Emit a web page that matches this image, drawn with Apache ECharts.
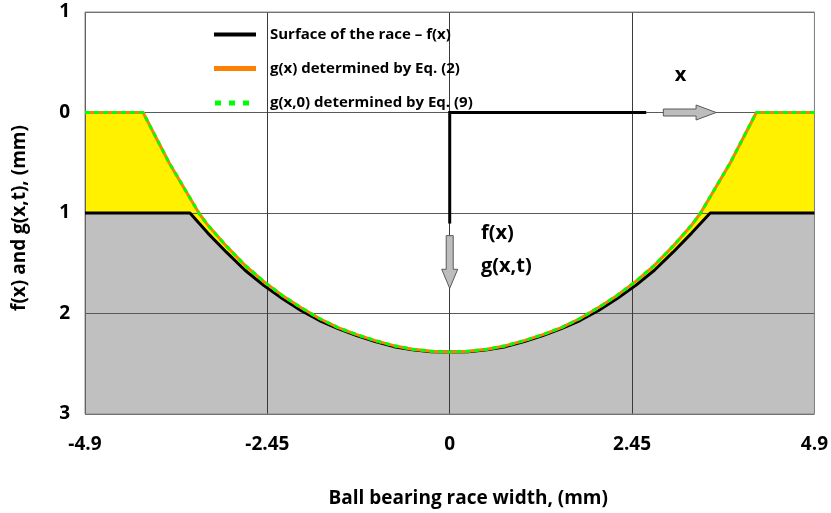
<!DOCTYPE html>
<html>
<head>
<meta charset="utf-8">
<script src="https://cdn.jsdelivr.net/npm/echarts@6/dist/echarts.min.js"></script>
<style>html,body{margin:0;padding:0;background:#fff}#c{width:831px;height:513px}</style>
</head>
<body>
<div id="c"></div>
<script>
// ---- data ----
const seriesNames = ['Surface of the race \u2013 f(x)', 'g(x) determined by Eq. (2)', 'g(x,0) determined by Eq. (9)'];
const xTickLabels = ['-4.9', '-2.45', '0', '2.45', '4.9'];
const yTickLabels = ['1', '0', '1', '2', '3'];
const xAxisTitle = 'Ball bearing race width, (mm)';
const yAxisTitle = 'f(x) and g(x,t), (mm)';

// f(x): surface of the race (depth, mm)
const fX = [-4.9, -3.49, -3.25, -3.0, -2.75, -2.5, -2.25, -2.0, -1.75, -1.5, -1.25, -1.0, -0.75, -0.5, -0.25, 0,
            0.25, 0.5, 0.75, 1.0, 1.25, 1.5, 1.75, 2.0, 2.25, 2.5, 2.75, 3.0, 3.25, 3.5, 4.9];
const fY = [1.0, 1.0, 1.2, 1.39, 1.57, 1.72, 1.85, 1.97, 2.07, 2.15, 2.22, 2.28, 2.33, 2.36, 2.38, 2.384,
            2.38, 2.36, 2.33, 2.28, 2.22, 2.15, 2.07, 1.97, 1.85, 1.72, 1.57, 1.39, 1.2, 1.0, 1.0];

// g(x): Eq. (2)
const gX = [-4.9, -4.12, -3.77, -3.37, -3.25, -3.0, -2.75, -2.5, -2.25, -2.0, -1.75, -1.5, -1.25, -1.0, -0.75, -0.5, -0.25, 0,
            0.25, 0.5, 0.75, 1.0, 1.25, 1.5, 1.75, 2.0, 2.25, 2.5, 2.75, 3.0, 3.25, 3.37, 3.77, 4.12, 4.9];
const gY = [0, 0, 0.5, 1.0, 1.12, 1.33, 1.52, 1.68, 1.82, 1.94, 2.05, 2.14, 2.21, 2.27, 2.32, 2.355, 2.375, 2.384,
            2.375, 2.355, 2.32, 2.27, 2.21, 2.14, 2.05, 1.94, 1.82, 1.68, 1.52, 1.33, 1.12, 1.0, 0.5, 0, 0];

// g(x,0): Eq. (9)
const g0X = gX.slice();
const g0Y = [0, 0, 0.5, 1.0, 1.12, 1.33, 1.52, 1.68, 1.82, 1.94, 2.05, 2.14, 2.21, 2.27, 2.32, 2.355, 2.375, 2.384,
            2.375, 2.355, 2.32, 2.27, 2.21, 2.14, 2.05, 1.94, 1.82, 1.68, 1.52, 1.33, 1.12, 1.0, 0.5, 0, 0];

const pairs = (xs, ys) => xs.map((x, i) => [x, ys[i]]);

const FONT = '"Open Sans", sans-serif';
const chart = echarts.init(document.getElementById('c'), null, {renderer: 'canvas'});

const option = {
  animation: false,
  backgroundColor: '#fff',
  grid: {left: 85, right: 10, top: 12, bottom: 95, show: true, z: 4,
         backgroundColor: 'transparent', borderColor: '#8a8a8a', borderWidth: 1},
  legend: {
    orient: 'vertical', left: 209, top: 22, itemWidth: 42, itemHeight: 14, itemGap: 19,
    selectedMode: false,
    textStyle: {fontFamily: FONT, fontWeight: 'bold', fontSize: 15, color: '#000', padding: [0, 0, 0, 9]},
    data: [
      {name: seriesNames[0], icon: 'path://M0,0M42,14M0,5L42,5L42,9L0,9Z',
       itemStyle: {color: '#000', borderWidth: 0, borderColor: 'transparent'}},
      {name: seriesNames[1], icon: 'path://M0,0M42,14M0,4.5L42,4.5L42,9.5L0,9.5Z',
       itemStyle: {color: '#FF7F00', borderWidth: 0, borderColor: 'transparent'}},
      {name: seriesNames[2], icon: 'path://M0,0M42,14M1,5L7,5L7,10L1,10ZM15,5L21,5L21,10L15,10ZM29,5L35,5L35,10L29,10Z',
       itemStyle: {color: '#00FF00', borderWidth: 0, borderColor: 'transparent'}}
    ]
  },
  xAxis: {
    type: 'value', min: -4.9, max: 4.9, interval: 2.45, z: 3,
    axisLine: {show: false}, axisTick: {show: false},
    splitLine: {show: true, lineStyle: {color: '#3a3a3a', width: 1}},
    axisLabel: {
      margin: 21, color: '#000', fontFamily: FONT, fontWeight: 'bold', fontSize: 19,
      formatter: v => xTickLabels[Math.round((v + 4.9) / 2.45)]
    },
    name: xAxisTitle, nameLocation: 'middle', nameGap: 75,
    nameTextStyle: {color: '#000', fontFamily: FONT, fontWeight: 'bold', fontSize: 19, padding: [0, 0, 0, 37]}
  },
  yAxis: {
    type: 'value', min: -1, max: 3, interval: 1, inverse: true, z: 3,
    axisLine: {show: false}, axisTick: {show: false},
    splitLine: {show: true, lineStyle: {color: '#5a5a5a', width: 1}},
    axisLabel: {
      margin: 15, color: '#000', fontFamily: FONT, fontWeight: 'bold', fontSize: 19,
      formatter: v => yTickLabels[Math.round(v + 1)]
    }
  },
  series: [
    {name: 'yellowFill', type: 'line', data: pairs(gX, gY), symbol: 'none', silent: true, z: 1,
     lineStyle: {width: 0, opacity: 0}, areaStyle: {color: '#FFF100', opacity: 1, origin: 'end'}},
    {name: 'grayFill', type: 'line', data: pairs(fX, fY), symbol: 'none', silent: true, z: 2,
     lineStyle: {width: 0, opacity: 0}, areaStyle: {color: '#C0C0C0', opacity: 1, origin: 'end'}},
    {name: seriesNames[0], type: 'line', data: pairs(fX, fY), symbol: 'none', z: 5,
     lineStyle: {color: '#000', width: 3}, itemStyle: {color: '#000'}},
    {name: seriesNames[1], type: 'line', data: pairs(gX, gY), symbol: 'none', z: 6,
     lineStyle: {color: '#FF7F00', width: 3}, itemStyle: {color: '#FF7F00'}},
    {name: seriesNames[2], type: 'line', data: pairs(g0X, g0Y), symbol: 'none', z: 7,
     lineStyle: {color: '#00FF00', width: 3, type: [5, 4]}, itemStyle: {color: '#00FF00'}}
  ]
};
chart.setOption(option);

// ---- annotations placed through the chart's own scales ----
const P = (x, y) => chart.convertToPixel({gridIndex: 0}, [x, y]);
const o = P(0, 0), hEnd = P(2.64, 0), vEnd = P(0, 1.105);
const rb0 = P(2.87, 0), rh0 = P(3.31, 0), rtip = P(3.58, 0);
const db0 = P(0, 1.225), dh0 = P(0, 1.56), dtip = P(0, 1.75);
const xl = P(3.1, -0.37), fl = P(0.42, 1.2), gl = P(0.42, 1.535);
const yName = P(-4.9, 1.05);
const arrowStyle = {fill: '#BDBDBD', stroke: '#5a5a5a', lineWidth: 1};
const txt = {fill: '#000', fontFamily: FONT, fontWeight: 'bold', fontSize: 20};

chart.setOption({
  graphic: [
    {type: 'text', z: 20, x: yName[0] - 65, y: yName[1], rotation: Math.PI / 2,
     style: {text: yAxisTitle, align: 'center', verticalAlign: 'middle', fill: '#000',
             fontFamily: FONT, fontWeight: 'bold', fontSize: 19}},
    {type: 'line', z: 20, shape: {x1: o[0], y1: o[1], x2: hEnd[0], y2: hEnd[1]}, style: {stroke: '#000', lineWidth: 3}},
    {type: 'line', z: 20, shape: {x1: o[0], y1: o[1] - 1.5, x2: vEnd[0], y2: vEnd[1]}, style: {stroke: '#000', lineWidth: 3}},
    {type: 'polygon', z: 20, shape: {points: [
      [rb0[0], rb0[1] - 3.5], [rh0[0], rh0[1] - 3.5], [rh0[0], rh0[1] - 7.5], [rtip[0], rtip[1]],
      [rh0[0], rh0[1] + 7.5], [rh0[0], rh0[1] + 3.5], [rb0[0], rb0[1] + 3.5]]}, style: arrowStyle},
    {type: 'polygon', z: 20, shape: {points: [
      [db0[0] - 3.5, db0[1]], [dh0[0] - 3.5, dh0[1]], [dh0[0] - 8, dh0[1]], [dtip[0], dtip[1]],
      [dh0[0] + 8, dh0[1]], [dh0[0] + 3.5, dh0[1]], [db0[0] + 3.5, db0[1]]]}, style: arrowStyle},
    {type: 'text', z: 20, x: xl[0], y: xl[1], style: Object.assign({text: 'x', align: 'center', verticalAlign: 'middle'}, txt)},
    {type: 'text', z: 20, x: fl[0], y: fl[1], style: Object.assign({text: 'f(x)', align: 'left', verticalAlign: 'middle'}, txt)},
    {type: 'text', z: 20, x: gl[0], y: gl[1], style: Object.assign({text: 'g(x,t)', align: 'left', verticalAlign: 'middle'}, txt)}
  ]
});
</script>
</body>
</html>
